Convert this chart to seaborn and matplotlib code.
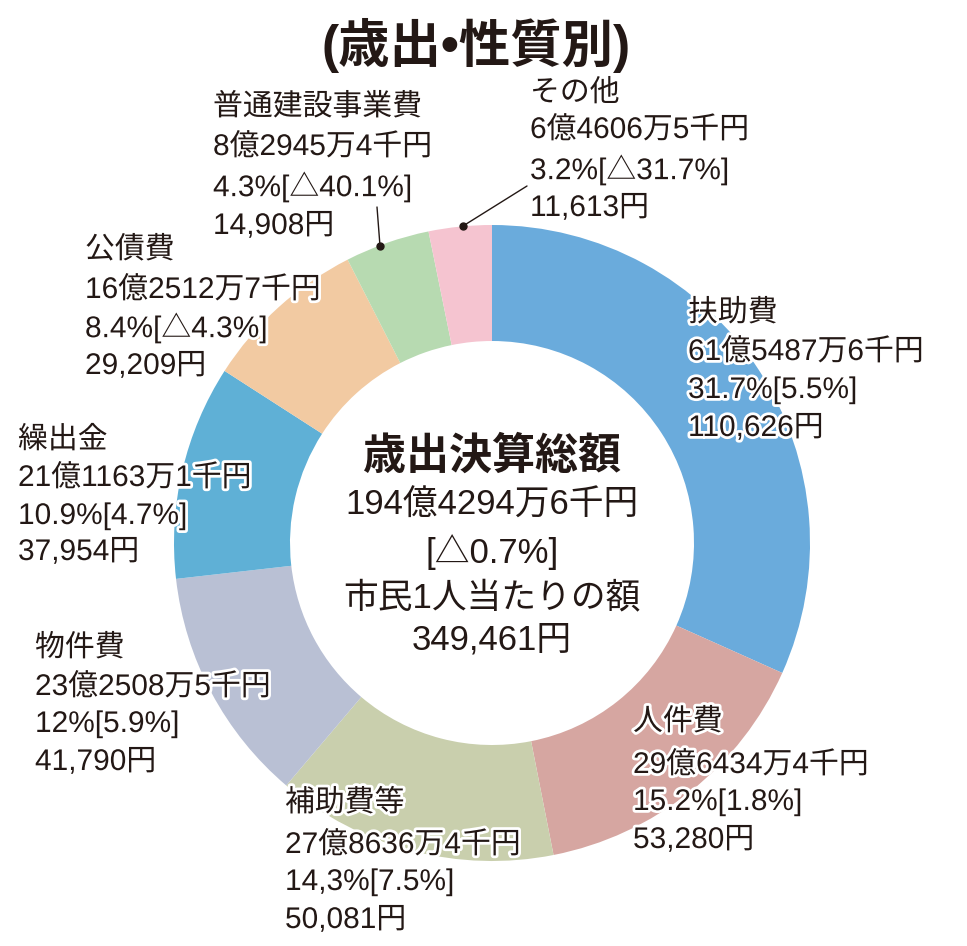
import matplotlib
matplotlib.use("Agg")
import matplotlib.pyplot as plt
import matplotlib.patheffects as pe
import seaborn as sns

sns.set_theme(style="white")
plt.rcParams['font.family'] = ['Liberation Sans', 'Noto Sans CJK JP', 'DejaVu Sans']

# ---- data ----
categories = ["扶助費", "人件費", "補助費等", "物件費", "繰出金", "公債費", "普通建設事業費", "その他"]
shares = [31.7, 15.2, 14.3, 12.0, 10.9, 8.4, 4.3, 3.2]
amounts = ["61億5487万6千円", "29億6434万4千円", "27億8636万4千円", "23億2508万5千円",
           "21億1163万1千円", "16億2512万7千円", "8億2945万4千円", "6億4606万5千円"]
share_texts = ["31.7%[5.5%]", "15.2%[1.8%]", "14,3%[7.5%]", "12%[5.9%]",
               "10.9%[4.7%]", "8.4%[△4.3%]", "4.3%[△40.1%]", "3.2%[△31.7%]"]
per_capita = ["110,626円", "53,280円", "50,081円", "41,790円",
              "37,954円", "29,209円", "14,908円", "11,613円"]
colors = ["#6aabdc", "#d6a6a1", "#c9cfad", "#b9c0d4", "#5fb0d6", "#f2caa2", "#b7dab1", "#f5c4d0"]

title = "(歳出•性質別)"
center_lines = ["歳出決算総額", "194億4294万6千円", "[△0.7%]", "市民1人当たりの額", "349,461円"]

W, H = 967, 946
fig = plt.figure(figsize=(W / 100, H / 100), dpi=100)
ax = fig.add_axes([0, 0, 1, 1])

def Y(y):
    return H - y

cx, cy, R = 492, 543, 318
ax.pie(shares, colors=colors, startangle=90, counterclock=False,
       center=(cx, Y(cy)), radius=R, frame=True,
       wedgeprops=dict(width=R - 202, linewidth=0))
ax.set_xlim(0, W)
ax.set_ylim(0, H)
ax.set_aspect('equal')
ax.axis('off')

stroke = [pe.withStroke(linewidth=4, foreground="white")]

# label block positions (left x, centers of lines)
label_pos = {
    "扶助費": (688, [313, 352, 390, 428]),
    "人件費": (633, [722, 765, 802, 840]),
    "補助費等": (285, [803, 845, 882, 920]),
    "物件費": (35, [648, 687, 724, 762]),
    "繰出金": (18, [440, 478, 516, 552]),
    "公債費": (85, [250, 290, 328, 366]),
    "普通建設事業費": (213, [107, 147, 187, 226]),
    "その他": (530, [93, 130, 170, 208]),
}

for i, cat in enumerate(categories):
    x, ys = label_pos[cat]
    lines = [cat, amounts[i], share_texts[i], per_capita[i]]
    for t, yy in zip(lines, ys):
        ax.text(x, Y(yy), t, fontsize=21.5, color="#231815", ha='left', va='center',
                path_effects=stroke)

# leader lines
ax.plot([380, 377], [Y(246), Y(207)], color="#231815", lw=1.0)
ax.plot([380], [Y(246)], 'o', color="#231815", ms=5)
ax.plot([463, 527], [Y(226), Y(186)], color="#231815", lw=1.0)
ax.plot([463], [Y(226)], 'o', color="#231815", ms=5)

# title
ax.text(476, Y(45), title, fontsize=37, fontweight='bold', color="#231815",
        ha='center', va='center')

# center text
ax.text(492, Y(457), center_lines[0], fontsize=31, fontweight='bold', color="#231815",
        ha='center', va='center')
for t, yy in zip(center_lines[1:], [505, 552, 598, 640]):
    ax.text(492, Y(yy), t, fontsize=25, color="#231815", ha='center', va='center')

fig.savefig("out.png", dpi=100, facecolor="white")
